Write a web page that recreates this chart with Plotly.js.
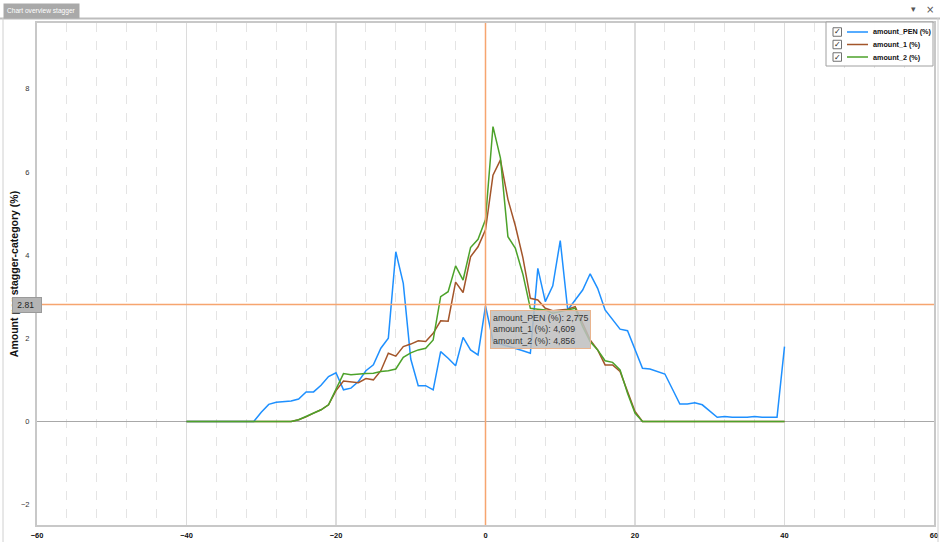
<!DOCTYPE html>
<html>
<head>
<meta charset="utf-8">
<script src="https://cdn.plot.ly/plotly-3.0.1.min.js"></script>
<style>html,body{margin:0;padding:0;background:#fff;overflow:hidden;}#chart{width:940px;height:542px;}</style>
</head>
<body>
<div id="chart"></div>
<script>
// ---- data ----
const xValues = [-40,-39,-38,-37,-36,-35,-34,-33,-32,-31,-30,-29,-28,-27,-26,-25,-24,-23,-22,-21,
  -20,-19,-18,-17,-16,-15,-14,-13,-12,-11,-10,-9,-8,-7,-6,-5,-4,-3,-2,-1,
  0,1,2,3,4,5,6,7,8,9,10,11,12,13,14,15,16,17,18,19,
  20,21,22,23,24,25,26,27,28,29,30,31,32,33,34,35,36,37,38,39,40];
const amountPEN = [0,0,0,0,0,0,0,0,0,0,0.22,0.41,0.46,0.47,0.49,0.54,0.71,0.71,0.87,1.08,
  1.17,0.76,0.80,0.96,1.22,1.36,1.76,2.00,4.08,3.32,1.50,0.86,0.86,0.76,1.68,1.52,1.34,2.02,1.72,1.60,
  2.775,1.94,1.86,1.81,1.76,1.70,1.64,3.68,2.88,3.26,4.35,2.68,2.92,3.16,3.55,3.20,2.68,2.44,2.22,2.18,
  1.72,1.28,1.26,1.20,1.14,0.78,0.42,0.42,0.45,0.40,0.24,0.10,0.12,0.10,0.10,0.10,0.12,0.10,0.10,0.10,1.80];
const amount1 = [0,0,0,0,0,0,0,0,0,0,0,0,0,0,0,0.04,0.11,0.20,0.28,0.40,
  0.74,0.97,0.95,0.93,1.03,1.00,1.22,1.64,1.57,1.80,1.86,1.94,1.92,2.12,2.42,2.41,3.35,3.10,3.96,4.20,
  4.609,5.92,6.29,5.34,4.70,3.94,2.96,2.92,2.72,2.66,2.68,2.70,2.76,2.36,1.96,1.72,1.36,1.36,1.20,0.72,
  0.24,0,0,0,0,0,0,0,0,0,0,0,0,0,0,0,0,0,0,0,0];
const amount2 = [0,0,0,0,0,0,0,0,0,0,0,0,0,0,0,0.04,0.12,0.21,0.28,0.40,
  0.76,1.15,1.12,1.14,1.15,1.16,1.20,1.22,1.26,1.54,1.65,1.72,1.76,1.96,3.00,3.12,3.74,3.40,4.18,4.38,
  4.856,7.09,6.33,4.44,4.16,3.54,2.72,2.70,2.68,2.60,2.64,2.68,2.72,2.28,1.92,1.72,1.46,1.42,1.24,0.68,
  0.20,0,0,0,0,0,0,0,0,0,0,0,0,0,0,0,0,0,0,0,0];
const seriesNames = ['amount_PEN (%)','amount_1 (%)','amount_2 (%)'];
const xTickVals = [-60,-40,-20,0,20,40,60];
const yTickVals = [-2,0,2,4,6,8];
const crosshairX = 0;
const crosshairY = 2.81;
const chartTitle = 'Chart overview stagger';
const yTitle = 'Amount per stagger-category (%)';

// ---- geometry helpers (pixel -> paper) ----
const W = 940, H = 542;
const M = {l:37, r:6, t:23, b:17};
const PW = W - M.l - M.r, PH = H - M.t - M.b;
const px = x => (x - M.l) / PW;
const py = y => (H - M.b - y) / PH;

const colors = ['#1e90ff','#a3552a','#4ca22a'];
const seriesData = [amountPEN, amount1, amount2];

const traces = seriesData.map((ys, i) => ({
  x: xValues, y: ys, type: 'scatter', mode: 'lines', name: seriesNames[i],
  line: {color: colors[i], width: 1.5}, hoverinfo: 'skip', showlegend: false
}));

const idx = xValues.indexOf(crosshairX);
const fmt = v => v.toFixed(3).replace('.', ',');
const tipText = seriesNames.map((n, i) => n + ': ' + fmt(seriesData[i][idx])).join('<br>');

const gray = '#c8c8c8';
const shapes = [
  // crosshair
  {type:'line', xref:'x', yref:'paper', x0:crosshairX, x1:crosshairX, y0:0, y1:1, line:{color:'#f6a56f', width:1.5}},
  {type:'line', xref:'paper', yref:'y', x0:0, x1:1, y0:crosshairY, y1:crosshairY, line:{color:'#f6a56f', width:1.5}},
  // window chrome
  {type:'line', xref:'paper', yref:'paper', x0:px(0), x1:px(940), y0:py(18.5), y1:py(18.5), line:{color:'#bdbdbd', width:2}},
  {type:'line', xref:'paper', yref:'paper', x0:px(3), x1:px(3), y0:py(18), y1:py(542), line:{color:'#d0d0d0', width:1}},
  {type:'line', xref:'paper', yref:'paper', x0:px(938), x1:px(938), y0:py(18), y1:py(542), line:{color:'#d0d0d0', width:1}},
  // legend frame
  {type:'rect', xref:'paper', yref:'paper', x0:px(826), x1:px(933), y0:py(66), y1:py(22), fillcolor:'rgba(255,255,255,0.95)', line:{color:'#a0a0a0', width:1}, layer:'above'}
];
const legendRows = [32, 44.5, 57];
const annotations = [
  {xref:'paper', yref:'paper', x:px(3), y:py(11), xanchor:'left', yanchor:'middle', text:chartTitle, showarrow:false,
   bgcolor:'#a9a9a9', borderpad:3, font:{family:'Liberation Sans, Arial', size:6.6, color:'#ffffff'}},
  {xref:'paper', yref:'paper', x:px(913), y:py(9), xanchor:'center', yanchor:'middle', text:'▾', showarrow:false, font:{family:'DejaVu Sans', size:9, color:'#555'}},
  {xref:'paper', yref:'paper', x:px(930), y:py(9), xanchor:'center', yanchor:'middle', text:'×', showarrow:false, font:{family:'DejaVu Sans', size:10, color:'#555'}},
  {xref:'paper', yref:'y', x:px(12), y:crosshairY, xanchor:'left', yanchor:'middle', text:'&nbsp;' + crosshairY.toFixed(2) + '&nbsp;&nbsp;', showarrow:false,
   bgcolor:'#b4b4b4', bordercolor:'#9a9a9a', borderwidth:1, borderpad:2, font:{family:'Liberation Sans, Arial', size:8.5, color:'#222'}},
  {xref:'x', yref:'y', x:crosshairX, y:crosshairY, xanchor:'left', yanchor:'top', xshift:4, yshift:-5, text:tipText, align:'left', showarrow:false,
   bgcolor:'rgba(190,190,190,0.85)', bordercolor:'#e9b48e', borderwidth:1, borderpad:2, font:{family:'Liberation Sans, Arial', size:8.8, color:'#333'}}
];
legendRows.forEach((r, i) => {
  shapes.push({type:'rect', xref:'paper', yref:'paper', x0:px(833), x1:px(841.5), y0:py(r+4.25), y1:py(r-4.25), fillcolor:'#fff', line:{color:'#707070', width:1}, layer:'above'});
  shapes.push({type:'line', xref:'paper', yref:'paper', x0:px(847), x1:px(868), y0:py(r), y1:py(r), line:{color:colors[i], width:1.5}, layer:'above'});
  annotations.push({xref:'paper', yref:'paper', x:px(837.3), y:py(r), xanchor:'center', yanchor:'middle', text:'✓', showarrow:false, font:{family:'DejaVu Sans', size:8, color:'#222'}});
  annotations.push({xref:'paper', yref:'paper', x:px(871), y:py(r), xanchor:'left', yanchor:'middle', text:seriesNames[i], showarrow:false,
    font:{family:'Liberation Sans, Arial', size:7.2, color:'#111', weight:'bold'}});
});

const layout = {
  width: W, height: H,
  margin: M,
  paper_bgcolor: '#ffffff', plot_bgcolor: '#ffffff',
  showlegend: false,
  xaxis: {
    range: [-60, 60], tickvals: xTickVals, ticks: '', ticklabelstandoff: 2,
    showgrid: true, gridcolor: '#dcdcdc', gridwidth: 1.5,
    minor: {dtick: 4, showgrid: true, gridcolor: '#e4e4e4', griddash: 'dash', gridwidth: 1},
    zeroline: false, showline: true, mirror: true, linecolor: gray, linewidth: 2,
    tickfont: {family:'Liberation Sans, Arial', size: 7.5, color:'#111', weight:'bold'}, fixedrange: true
  },
  yaxis: {
    range: [-2.49, 9.58], tickvals: yTickVals, ticks: '', ticklabelstandoff: 4,
    showgrid: false, zeroline: true, zerolinecolor: '#a8a8a8', zerolinewidth: 1,
    showline: true, mirror: true, linecolor: gray, linewidth: 2,
    tickfont: {family:'Liberation Sans, Arial', size: 7.5, color:'#333'},
    title: {text: yTitle, standoff: 0, font: {family:'Liberation Sans, Arial', size: 10.5, color:'#111', weight:'bold'}},
    fixedrange: true
  },
  hovermode: false,
  shapes: shapes,
  annotations: annotations
};

Plotly.newPlot('chart', traces, layout, {displayModeBar: false, staticPlot: true});
</script>
</body>
</html>
